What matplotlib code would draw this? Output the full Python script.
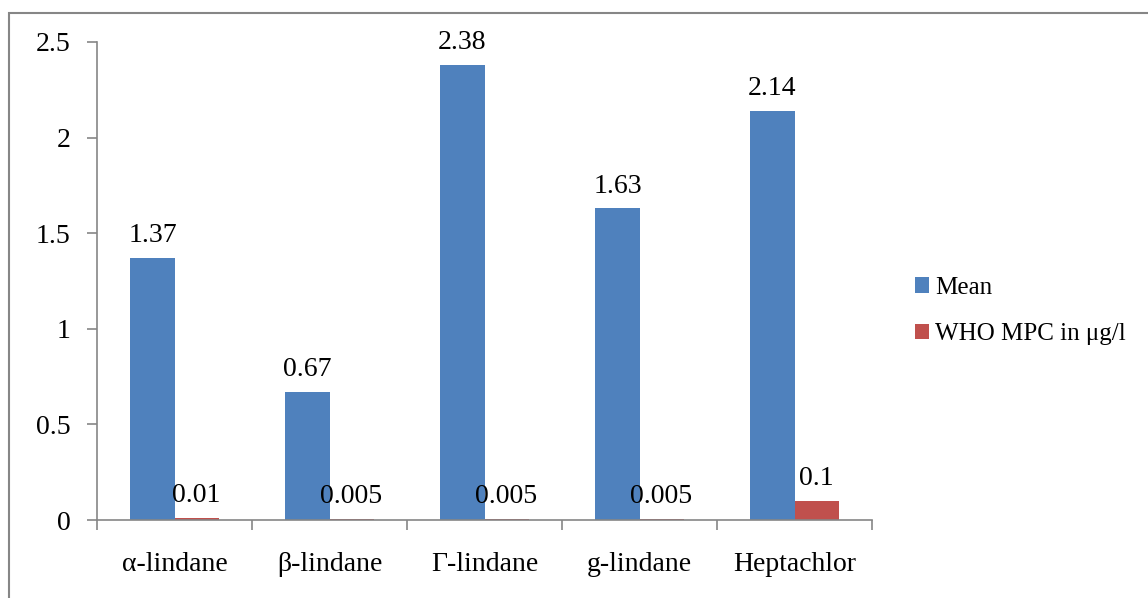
import numpy as np
import matplotlib.pyplot as plt
from matplotlib.patches import Rectangle

plt.rcParams["font.family"] = ["Liberation Serif", "DejaVu Serif"]

categories = ["α-lindane", "β-lindane", "Γ-lindane", "g-lindane", "Heptachlor"]
mean_vals = [1.37, 0.67, 2.38, 1.63, 2.14]
who_vals = [0.01, 0.005, 0.005, 0.005, 0.1]
mean_labels = ["1.37", "0.67", "2.38", "1.63", "2.14"]
who_labels = ["0.01", "0.005", "0.005", "0.005", "0.1"]

blue = "#4F81BD"
red = "#C0504D"
grey = "#868686"
fs = 20

fig = plt.figure(figsize=(11.48, 5.98), dpi=100)
# outer chart frame (cut off at right and bottom, as in the original)
fig.patches.append(Rectangle((9 / 1148, -0.05), 1.2, 1 - 13 / 598 + 0.05,
                             transform=fig.transFigure, fill=False,
                             edgecolor=grey, linewidth=1.5))

ax = fig.add_axes([97 / 1148, 1 - 520 / 598, 775 / 1148, 478 / 598])

x = np.arange(len(categories))
w = 0.284
b1 = ax.bar(x - w / 2, mean_vals, w, color=blue, label="Mean")
b2 = ax.bar(x + w / 2, who_vals, w, color=red, label="WHO MPC in μg/l")

for bars, labels in [(b1, mean_labels), (b2, who_labels)]:
    for rect, lab in zip(bars, labels):
        ax.annotate(lab, (rect.get_x() + rect.get_width() / 2, rect.get_height()),
                    xytext=(0, 7), textcoords="offset points",
                    ha="center", va="bottom", fontsize=fs)

ax.set_xlim(-0.5, len(categories) - 0.5)
ax.set_ylim(0, 2.5)
ax.set_yticks([0, 0.5, 1, 1.5, 2, 2.5])
ax.set_yticklabels(["0", "0.5", "1", "1.5", "2", "2.5"], fontsize=fs)
ax.set_xticks(x)
ax.set_xticklabels(categories, fontsize=fs)
ax.set_xticks(np.arange(len(categories) + 1) - 0.5, minor=True)
ax.tick_params(axis="x", which="major", length=0, pad=23)
ax.tick_params(axis="x", which="minor", length=7, color=grey, width=1.2)
ax.tick_params(axis="y", length=7, color=grey, width=1.2, pad=12)

for s in ["top", "right"]:
    ax.spines[s].set_visible(False)
for s in ["left", "bottom"]:
    ax.spines[s].set_color(grey)
    ax.spines[s].set_linewidth(1.2)

ax.legend(loc="center left", bbox_to_anchor=(1.0555, 0.437), frameon=False,
          fontsize=18, handlelength=0.55, handleheight=0.55, handletextpad=0.25,
          labelspacing=0.98, borderpad=0, borderaxespad=0)

fig.savefig("out.png", dpi=100)
